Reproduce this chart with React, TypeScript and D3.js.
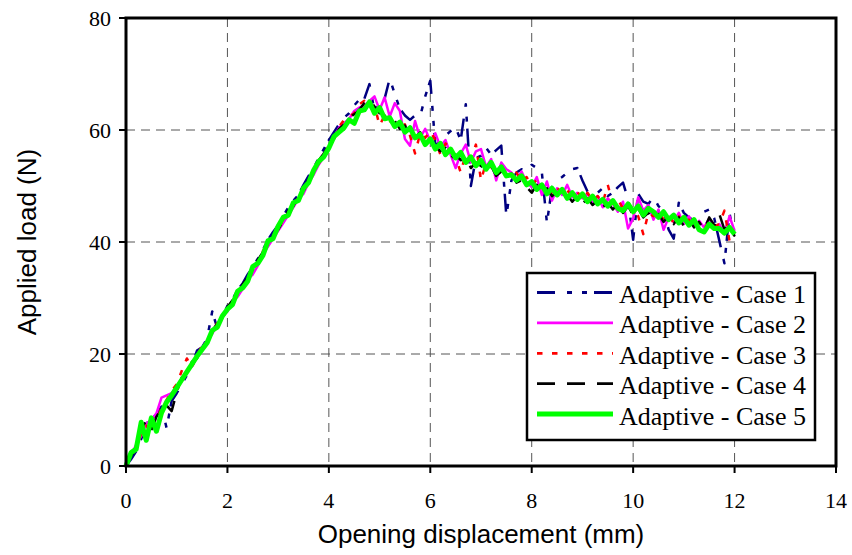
import React from "react";
import * as d3 from "d3";

// Opening displacement samples (mm)
const displacement = [
  0, 0.1, 0.2, 0.3, 0.4, 0.5, 0.6, 0.7, 0.8, 0.9,
  1, 1.1, 1.2, 1.3, 1.4, 1.5, 1.6, 1.7, 1.8, 1.9,
  2, 2.1, 2.2, 2.3, 2.4, 2.5, 2.6, 2.7, 2.8, 2.9,
  3, 3.1, 3.2, 3.3, 3.4, 3.5, 3.6, 3.7, 3.8, 3.9,
  4, 4.1, 4.2, 4.3, 4.4, 4.5, 4.6, 4.7, 4.8, 4.9,
  5, 5.1, 5.2, 5.3, 5.4, 5.5, 5.6, 5.7, 5.8, 5.9,
  6, 6.1, 6.2, 6.3, 6.4, 6.5, 6.6, 6.7, 6.8, 6.9,
  7, 7.1, 7.2, 7.3, 7.4, 7.5, 7.6, 7.7, 7.8, 7.9,
  8, 8.1, 8.2, 8.3, 8.4, 8.5, 8.6, 8.7, 8.8, 8.9,
  9, 9.1, 9.2, 9.3, 9.4, 9.5, 9.6, 9.7, 9.8, 9.9,
  10, 10.1, 10.2, 10.3, 10.4, 10.5, 10.6, 10.7, 10.8, 10.9,
  11, 11.1, 11.2, 11.3, 11.4, 11.5, 11.6, 11.7, 11.8, 11.9,
  12,
];

const case1 = [
  0, 1.2, 2.6, 4.8, 7.6, 8.4, 9.2, 10.6, 6.8, 11.6,
  13.0, 14.6, 16.2, 18.0, 20.6, 21.2, 22.8, 27.6, 24.6, 26.6,
  28.6, 29.8, 31.4, 32.6, 34.2, 35.6, 37.0, 38.6, 40.4, 41.8,
  43.0, 44.6, 46.2, 47.4, 48.4, 50.2, 51.8, 53.2, 55.0, 56.6,
  58.2, 59.6, 61.0, 62.2, 63.0, 64.4, 65.4, 65.6, 68.2, 63.4,
  64.6, 65.6, 69.2, 66.4, 63.8, 62.6, 61.8, 62.6, 62.4, 66.0,
  68.8, 57.2, 58.0, 59.0, 59.8, 60.4, 58.2, 64.6, 50.0, 55.0,
  55.4, 56.8, 55.6, 56.4, 57.2, 44.6, 51.0, 52.4, 53.0, 52.6,
  53.8, 53.2, 52.4, 43.4, 49.8, 51.0, 51.6, 52.4, 53.0, 53.2,
  51.0, 49.0, 48.4, 48.8, 49.6, 48.2, 48.8, 49.8, 50.6, 47.6,
  40.4, 48.6, 47.2, 46.8, 48.0, 46.4, 45.6, 42.2, 40.6, 47.0,
  45.2, 44.4, 43.8, 44.6, 45.4, 45.8, 44.2, 40.2, 36.2, 45.2,
  40.2,
];

const case2 = [
  0, 2.0, 3.8, 5.4, 7.6, 8.2, 9.4, 12.2, 12.6, 13.0,
  14.2, 15.2, 17.0, 17.8, 19.4, 21.0, 22.4, 23.6, 25.2, 26.8,
  27.6, 29.4, 30.2, 31.6, 33.4, 34.2, 35.8, 37.8, 39.2, 40.6,
  42.0, 43.4, 44.8, 46.2, 47.8, 48.6, 50.6, 52.0, 53.8, 55.2,
  57.0, 58.6, 60.4, 61.2, 62.0, 63.4, 64.0, 64.4, 65.2, 66.0,
  63.6, 65.8, 62.4, 64.8, 63.4, 58.4, 57.2, 61.6, 58.6, 60.2,
  58.0, 59.4, 57.0, 58.2, 55.6, 53.2, 55.8, 57.4, 54.2, 56.2,
  56.6, 53.4, 54.8, 51.0, 54.2, 53.0, 52.4, 51.2, 52.6, 50.6,
  49.8, 51.6, 48.4, 50.8, 47.4, 49.6, 48.4, 50.2, 48.0, 48.8,
  47.8, 48.6, 47.0, 48.2, 46.2, 47.8, 46.8, 45.4, 47.2, 42.4,
  44.2, 48.0, 45.6, 46.6, 44.0, 45.8, 42.2, 44.4, 43.6, 45.2,
  43.2, 44.6, 42.8, 43.8, 42.6, 44.2, 42.4, 43.2, 41.4, 44.6,
  42.0,
];

const case3 = [
  0, 1.6, 3.2, 5.8, 7.2, 5.8, 8.0, 10.4, 11.8, 13.4,
  14.6, 17.0, 19.2, 17.6, 19.8, 21.4, 22.0, 23.8, 25.6, 26.6,
  28.2, 29.4, 31.0, 32.2, 33.6, 35.0, 36.2, 38.4, 39.6, 40.8,
  42.8, 43.6, 45.2, 47.0, 47.8, 49.8, 50.6, 52.4, 54.0, 55.6,
  57.2, 58.6, 60.6, 61.8, 62.4, 63.0, 64.6, 65.2, 63.8, 64.4,
  60.8, 62.6, 61.6, 61.2, 60.4, 61.0, 59.0, 55.8, 59.4, 58.6,
  59.8, 58.2, 55.6, 57.6, 56.6, 55.2, 52.4, 55.8, 55.0, 57.4,
  51.0, 54.2, 53.4, 52.0, 53.6, 52.2, 51.6, 52.4, 50.8, 51.6,
  50.0, 51.2, 49.6, 50.4, 48.6, 49.8, 48.4, 49.2, 48.2, 49.0,
  47.6, 48.8, 47.4, 48.2, 47.0, 50.2, 46.8, 47.6, 46.0, 47.0,
  45.8, 44.6, 41.4, 45.2, 44.6, 45.6, 44.0, 44.8, 43.4, 44.6,
  43.0, 44.0, 42.6, 43.4, 42.2, 43.8, 42.8, 43.2, 45.6, 40.2,
  41.6,
];

const case4 = [
  0, 1.8, 3.4, 6.8, 8.0, 6.4, 8.8, 10.2, 10.8, 9.8,
  13.2, 15.8, 16.4, 18.6, 19.2, 21.2, 22.2, 24.2, 25.4, 26.2,
  28.4, 29.6, 30.4, 32.4, 33.6, 34.6, 36.8, 38.2, 39.4, 41.2,
  42.2, 43.8, 45.6, 46.4, 48.2, 49.0, 51.2, 52.2, 54.6, 55.8,
  57.4, 58.4, 60.2, 61.0, 62.2, 62.8, 63.6, 64.8, 65.4, 64.2,
  63.0, 62.6, 61.4, 61.6, 60.2, 60.8, 59.2, 58.6, 59.6, 57.4,
  57.8, 57.0, 56.2, 56.8, 55.0, 55.6, 54.6, 55.4, 53.2, 54.2,
  53.6, 52.8, 53.6, 51.8, 52.6, 51.4, 52.2, 50.6, 51.0, 49.8,
  48.8, 50.2, 48.6, 49.6, 48.2, 48.8, 47.6, 48.4, 47.2, 48.2,
  46.8, 47.8, 46.6, 47.4, 46.2, 47.0, 45.8, 46.8, 45.2, 46.4,
  44.8, 46.0, 44.4, 45.2, 43.8, 45.0, 43.6, 44.6, 43.2, 44.4,
  42.8, 44.0, 42.6, 43.6, 42.2, 44.4, 43.0, 45.0, 42.2, 43.4,
  41.0,
];

const case5 = [
  0, 2.4, 3.0, 7.8, 4.6, 8.6, 6.2, 9.5, 11.4, 12.6,
  14.0, 15.4, 16.8, 18.2, 19.6, 20.8, 22.0, 24.2, 24.8, 26.8,
  28.0, 28.8, 31.2, 31.8, 33.0, 35.6, 36.2, 37.6, 40.2, 40.6,
  42.8, 44.4, 44.8, 47.0, 47.4, 49.6, 50.6, 52.8, 54.4, 55.2,
  56.8, 58.8, 59.6, 60.4, 61.8, 61.2, 63.4, 63.6, 65.0, 63.0,
  64.0, 62.0, 62.2, 60.6, 61.4, 59.6, 60.4, 58.6, 59.2, 57.4,
  58.4, 56.6, 57.6, 55.6, 56.6, 55.0, 56.0, 54.2, 55.2, 53.6,
  54.6, 53.0, 54.2, 52.4, 53.4, 51.8, 52.0, 51.0, 51.8, 50.2,
  50.8, 49.4, 50.2, 48.6, 49.6, 48.4, 49.4, 47.8, 48.8, 47.6,
  48.6, 47.2, 48.2, 46.8, 47.6, 46.4, 47.4, 46.0, 45.6, 46.8,
  45.4, 46.4, 44.8, 46.0, 45.4, 44.4, 45.4, 44.0, 44.8, 43.4,
  44.4, 43.0, 44.0, 42.2, 41.8, 43.2, 42.4, 42.4, 41.6, 42.6,
  41.4,
];

const seriesNames = [
  "Adaptive - Case 1",
  "Adaptive - Case 2",
  "Adaptive - Case 3",
  "Adaptive - Case 4",
  "Adaptive - Case 5",
];
const seriesValues = [case1, case2, case3, case4, case5];

const xTicks = [0, 2, 4, 6, 8, 10, 12, 14];
const yTicks = [0, 20, 40, 60, 80];
const xGrid = [2, 4, 6, 8, 10, 12];
const yGrid = [20, 40, 60];

const styles = [
  { color: "#000080", width: 2.5, dash: "18,12,5,10,5,7" },
  { color: "#FF00FF", width: 2.5, dash: "" },
  { color: "#FF0000", width: 2.5, dash: "5.5,9.5" },
  { color: "#000000", width: 2.5, dash: "18,12" },
  { color: "#00FF00", width: 5, dash: "" },
];

const W = 852;
const H = 555;
const L = 126;
const R = 836;
const T = 18;
const B = 466;

const serif =
  "'Liberation Serif', 'Times New Roman', Times, Tinos, 'Nimbus Roman', 'Nimbus Roman No9 L', 'Noto Serif', 'DejaVu Serif', FreeSerif, serif";
const sans = "'Liberation Sans', Arial, sans-serif";

export default function App() {
  const x = d3.scaleLinear().domain([0, 14]).range([L, R]);
  const y = d3.scaleLinear().domain([0, 80]).range([B, T]);
  const line = d3
    .line<number>()
    .x((_, i) => x(displacement[i]))
    .y((d) => y(d));

  const legX = 527;
  const legY = 273;
  const legW = 288;
  const legH = 167;

  const serifStyle = { fontFamily: serif } as React.CSSProperties;
  const sansStyle = { fontFamily: sans } as React.CSSProperties;

  return (
    <svg
      width={W}
      height={H}
      style={{ position: "absolute", left: 0, top: 0, background: "#fff" }}
    >
      <rect x={0} y={0} width={W} height={H} fill="#fff" />
      {xGrid.map((v) => (
        <line
          key={"gx" + v}
          x1={x(v)}
          x2={x(v)}
          y1={T}
          y2={B}
          stroke="#555"
          strokeWidth={1}
          strokeDasharray="9,6"
        />
      ))}
      {yGrid.map((v) => (
        <line
          key={"gy" + v}
          x1={L}
          x2={R}
          y1={y(v)}
          y2={y(v)}
          stroke="#555"
          strokeWidth={1}
          strokeDasharray="9,6"
        />
      ))}
      {seriesValues.map((vals, i) => (
        <path
          key={"s" + i}
          d={line(vals) || ""}
          fill="none"
          stroke={styles[i].color}
          strokeWidth={styles[i].width}
          strokeDasharray={styles[i].dash || undefined}
          strokeLinejoin="round"
        />
      ))}
      <rect
        x={L}
        y={T}
        width={R - L}
        height={B - T}
        fill="none"
        stroke="#000"
        strokeWidth={3}
      />
      {xTicks.map((v) => (
        <g key={"xt" + v}>
          <line x1={x(v)} x2={x(v)} y1={B} y2={B + 7} stroke="#000" strokeWidth={2} />
          <text
            x={x(v)}
            y={508}
            textAnchor="middle"
            style={serifStyle}
            fontSize={22}
            fill="#000"
          >
            {v}
          </text>
        </g>
      ))}
      {yTicks.map((v) => (
        <g key={"yt" + v}>
          <line x1={L - 7} x2={L} y1={y(v)} y2={y(v)} stroke="#000" strokeWidth={2} />
          <text
            x={111}
            y={y(v) + 7.5}
            textAnchor="end"
            style={serifStyle}
            fontSize={22}
            fill="#000"
          >
            {v}
          </text>
        </g>
      ))}
      <text
        x={(L + R) / 2}
        y={543}
        textAnchor="middle"
        style={sansStyle}
        fontSize={26}
        fill="#000"
      >
        Opening displacement (mm)
      </text>
      <text
        transform={`translate(36, ${(T + B) / 2}) rotate(-90)`}
        textAnchor="middle"
        style={sansStyle}
        fontSize={26}
        fill="#000"
      >
        Applied load (N)
      </text>
      <rect
        x={legX}
        y={legY}
        width={legW}
        height={legH}
        fill="#fff"
        stroke="#000"
        strokeWidth={2.5}
      />
      {seriesNames.map((name, i) => {
        const cy = 292.5 + i * 30.4;
        return (
          <g key={"lg" + i}>
            <line
              x1={537}
              x2={613}
              y1={cy}
              y2={cy}
              stroke={styles[i].color}
              strokeWidth={i === 4 ? 5 : 2.8}
              strokeDasharray={styles[i].dash || undefined}
            />
            <text
              x={619}
              y={cy + 10.5}
              style={serifStyle}
              fontSize={26}
              fill="#000"
            >
              {name}
            </text>
          </g>
        );
      })}
    </svg>
  );
}
